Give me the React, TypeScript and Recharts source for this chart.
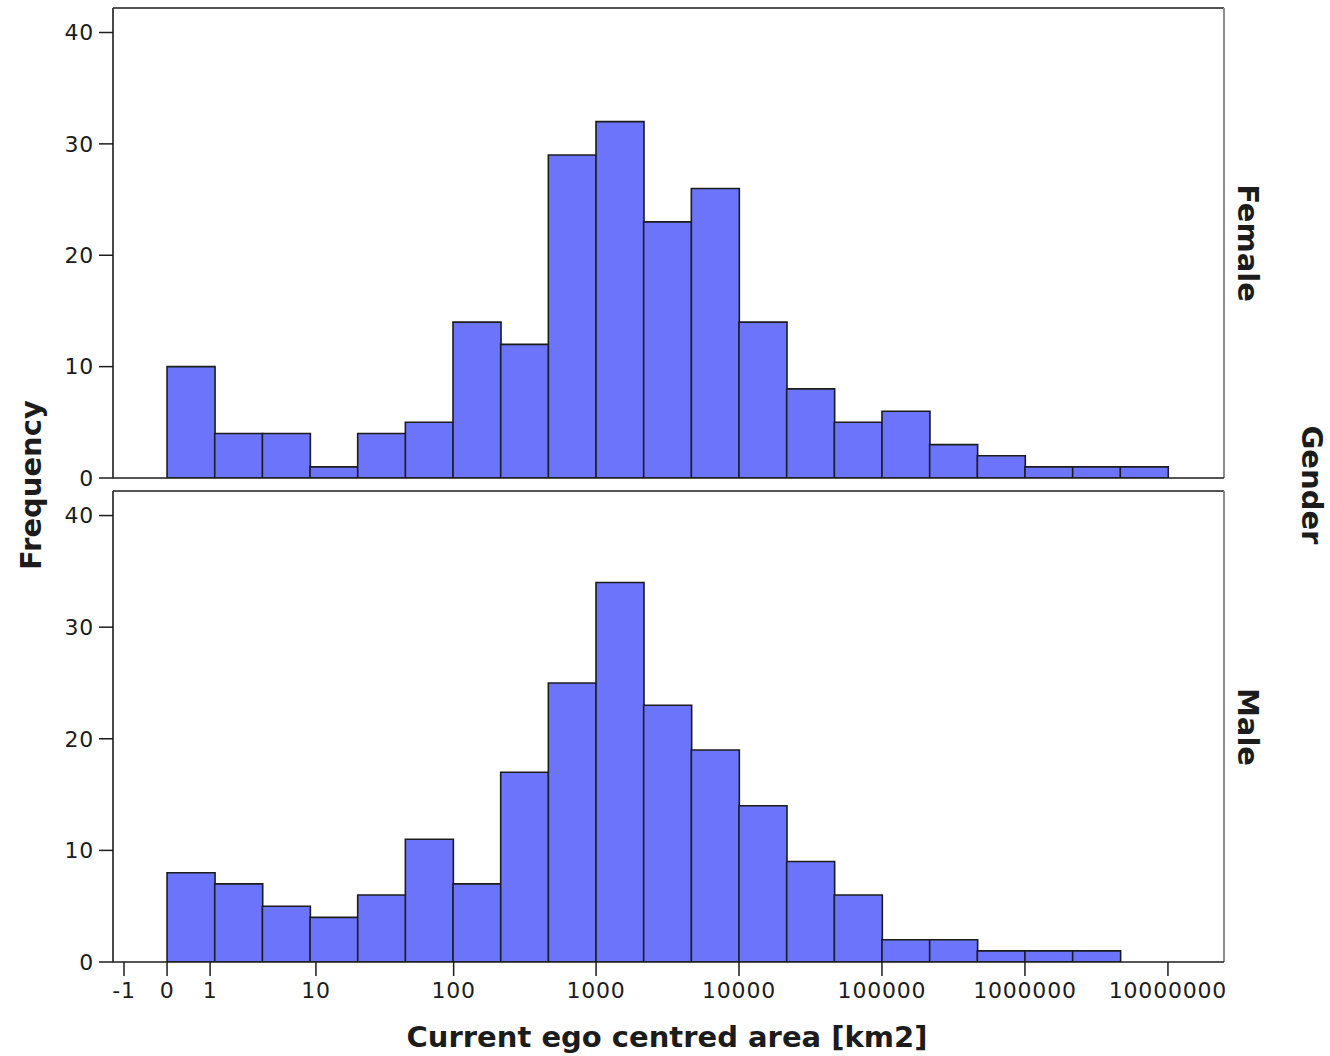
import React from 'react';
import { BarChart, Bar, XAxis, YAxis, ReferenceLine } from 'recharts';

// Tick labels of the area axis (km2), placed on a signed log10(|v|+1) scale
const areaTickLabels = ['-1', '0', '1', '10', '100', '1000', '10000', '100000', '1000000', '10000000'];

// Histogram counts per bin (each bin spans a third of a decade)
const femaleCounts = [10, 4, 4, 1, 4, 5, 14, 12, 29, 32, 23, 26, 14, 8, 5, 6, 3, 2, 1, 1, 1];
const maleCounts = [8, 7, 5, 4, 6, 11, 7, 17, 25, 34, 23, 19, 14, 9, 6, 2, 2, 1, 1, 1];

const frequencyTicks = [0, 10, 20, 30, 40];

const BIN_WIDTH = 1 / 3;
const X_DOMAIN: [number, number] = [-0.378, 7.392];
const Y_DOMAIN: [number, number] = [0, 42.2];

const FONT = '"DejaVu Sans", Verdana, sans-serif';
const BAR_FILL = '#6b74fa';
const INK = '#1c1c1c';

const toAxis = (v: number) => Math.sign(v) * Math.log10(Math.abs(v) + 1);
const xTicks = areaTickLabels.map((l) => toAxis(Number(l)));
const formatTick = (t: number) => {
  const i = xTicks.findIndex((x) => Math.abs(x - t) < 1e-9);
  return i >= 0 ? areaTickLabels[i] : '';
};

const toBins = (counts: number[]) =>
  counts.map((count, i) => ({ pos: (i + 0.5) * BIN_WIDTH, count }));

const femaleData = toBins(femaleCounts);
const maleData = toBins(maleCounts);

const tickStyle = { fontFamily: FONT, fontSize: 22, fill: INK, letterSpacing: 0.8 };

function Panel({
  data,
  height,
  marginTop,
  showXTicks,
  xAxisHeight,
}: {
  data: { pos: number; count: number }[];
  height: number;
  marginTop: number;
  showXTicks: boolean;
  xAxisHeight: number;
}) {
  return (
    <BarChart
      width={1330}
      height={height}
      data={data}
      margin={{ top: marginTop, right: 106, bottom: 0, left: 0 }}
      barCategoryGap={0}
      barGap={0}
    >
      <XAxis
        dataKey="pos"
        type="number"
        domain={X_DOMAIN}
        ticks={showXTicks ? xTicks : []}
        interval={0}
        tickFormatter={formatTick}
        tick={showXTicks ? tickStyle : false}
        tickLine={showXTicks ? { stroke: INK, strokeWidth: 1.5 } : false}
        tickSize={14}
        tickMargin={6}
        height={xAxisHeight}
        axisLine={{ stroke: INK, strokeWidth: 1.6 }}
        allowDataOverflow
      />
      <YAxis
        type="number"
        domain={Y_DOMAIN}
        ticks={frequencyTicks}
        interval={0}
        width={113}
        tick={tickStyle}
        tickLine={{ stroke: INK, strokeWidth: 1.5 }}
        tickSize={14}
        tickMargin={5}
        axisLine={{ stroke: INK, strokeWidth: 1.6 }}
        allowDataOverflow
      />
      <ReferenceLine y={Y_DOMAIN[1]} stroke={INK} strokeWidth={1.6} />
      <ReferenceLine x={X_DOMAIN[1]} stroke="#8c8c8c" strokeWidth={2} />
      <Bar
        dataKey="count"
        fill={BAR_FILL}
        stroke={INK}
        strokeWidth={1.6}
        isAnimationActive={false}
      />
    </BarChart>
  );
}

const titleStyle: React.CSSProperties = {
  position: 'absolute',
  fontFamily: FONT,
  fontWeight: 'bold',
  fontSize: 29,
  color: INK,
  whiteSpace: 'nowrap',
  lineHeight: 1,
};

function Title({ text, x, y, angle }: { text: string; x: number; y: number; angle: number }) {
  return (
    <div
      style={{
        ...titleStyle,
        left: x,
        top: y,
        transform: `translate(-50%, -50%) rotate(${angle}deg)`,
      }}
    >
      {text}
    </div>
  );
}

export default function App() {
  return (
    <div
      style={{
        position: 'absolute',
        left: 0,
        top: 0,
        width: 1330,
        height: 1056,
        background: '#fff',
        overflow: 'hidden',
      }}
    >
      <div style={{ position: 'absolute', left: 0, top: 480 }}>
        <Panel data={maleData} height={530} marginTop={11} showXTicks xAxisHeight={48} />
      </div>
      <div style={{ position: 'absolute', left: 0, top: 0 }}>
        {/* taller canvas so the lowest frequency label is not clipped */}
        <Panel data={femaleData} height={500} marginTop={8} showXTicks={false} xAxisHeight={22} />
      </div>
      <Title text="Frequency" x={31} y={485} angle={-90} />
      <Title text="Female" x={1247} y={243} angle={90} />
      <Title text="Male" x={1247} y={727} angle={90} />
      <Title text="Gender" x={1311} y={485} angle={90} />
      <Title text="Current ego centred area [km2]" x={667} y={1037} angle={0} />
    </div>
  );
}
